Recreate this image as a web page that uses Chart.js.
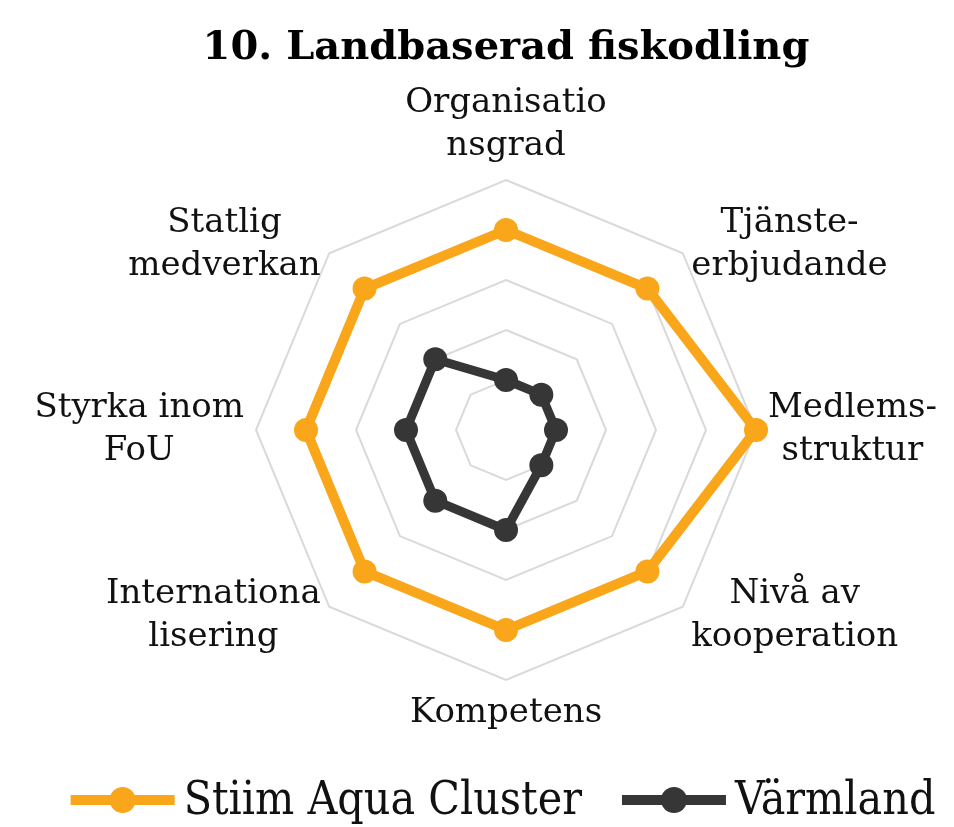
<!DOCTYPE html>
<html lang="sv">

<head>
    <meta charset="UTF-8">
    <meta name="viewport" content="width=device-width, initial-scale=1.0">
    <title>Landbaserad fiskodling</title>
    <style>
        html, body {
            margin: 0;
            padding: 0;
            background: #ffffff;
        }

        .chart-container {
            width: 954px;
            height: 827px;
        }
    </style>
</head>

<body>
    <div class="chart-container">
        <canvas id="radarChart"></canvas>
    </div>

    <script src="https://cdn.jsdelivr.net/npm/chart.js"></script>
    <script>
        // data
        const categories = [
            ["Organisatio", "nsgrad"],
            ["Tjänste-", "erbjudande"],
            ["Medlems-", "struktur"],
            ["Nivå av", "kooperation"],
            ["Kompetens"],
            ["Internationa", "lisering"],
            ["Styrka inom", "FoU"],
            ["Statlig", "medverkan"]
        ];
        const stiimValues = [4, 4, 5, 4, 4, 4, 4, 4];
        const varmlandValues = [1, 1, 1, 1, 2, 2, 2, 2];
        const seriesNames = ["Stiim Aqua Cluster", "Värmland"];
        const chartTitle = "10. Landbaserad fiskodling";

        const orange = "#F9A61A";
        const dark = "#363636";

        // draws the axis labels centred line by line, like the original
        const axisLabelPlugin = {
            id: "axisLabels",
            afterDraw(chart) {
                const scale = chart.scales.r;
                const ctx = chart.ctx;
                const lineH = 43;
                ctx.save();
                ctx.font = "34px 'DejaVu Serif'";
                ctx.fillStyle = "#111111";
                ctx.textAlign = "center";
                ctx.textBaseline = "middle";
                chart.data.labels.forEach(function (lines, i) {
                    const p = scale.getPointPosition(i, scale.drawingArea + 12);
                    const w = Math.max(...lines.map((l) => ctx.measureText(l).width));
                    const h = lines.length * lineH;
                    const cos = Math.cos(p.angle);
                    const sin = Math.sin(p.angle);
                    let cx = p.x;
                    let cy = p.y;
                    if (cos > 0.01) cx += w / 2;
                    else if (cos < -0.01) cx -= w / 2;
                    if (Math.abs(cos) <= 0.01) cy += sin * h / 2;
                    lines.forEach((l, k) => ctx.fillText(l, cx, cy - h / 2 + lineH * (k + 0.5)));
                });
                ctx.restore();
            }
        };

        // legend in the bottom strip: thick line with a dot, then the series name
        const lineLegendPlugin = {
            id: "lineLegend",
            afterDraw(chart) {
                const ctx = chart.ctx;
                const lineLen = 104;
                const textGap = 9;
                const itemGap = 40;
                const centerX = 503;
                const y = 800;
                ctx.save();
                ctx.font = "46px 'DejaVu Serif Condensed', 'Liberation Serif', serif";
                ctx.textBaseline = "middle";
                ctx.textAlign = "left";
                const items = chart.data.datasets.map((ds) => ({
                    text: ds.label,
                    color: ds.borderColor,
                    w: ctx.measureText(ds.label).width
                }));
                const total = items.reduce((s, it) => s + lineLen + textGap + it.w, 0) + itemGap * (items.length - 1);
                let x = centerX - total / 2;
                items.forEach(function (it) {
                    ctx.fillStyle = it.color;
                    ctx.fillRect(x, y - 5, lineLen, 10);
                    ctx.beginPath();
                    ctx.arc(x + lineLen / 2, y, 13, 0, Math.PI * 2);
                    ctx.fill();
                    ctx.fillStyle = "#111111";
                    ctx.fillText(it.text, x + lineLen + textGap, y + 2);
                    x += lineLen + textGap + it.w + itemGap;
                });
                ctx.restore();
            }
        };

        const ctx = document.getElementById("radarChart").getContext("2d");
        new Chart(ctx, {
            type: "radar",
            data: {
                labels: categories,
                datasets: [{
                    label: seriesNames[0],
                    data: stiimValues,
                    borderColor: orange,
                    backgroundColor: orange,
                    pointBackgroundColor: orange,
                    pointBorderColor: orange,
                    borderWidth: 10,
                    pointRadius: 12,
                    pointBorderWidth: 0,
                    fill: false
                },
                {
                    label: seriesNames[1],
                    data: varmlandValues,
                    borderColor: dark,
                    backgroundColor: dark,
                    pointBackgroundColor: dark,
                    pointBorderColor: dark,
                    borderWidth: 9,
                    pointRadius: 12,
                    pointBorderWidth: 0,
                    fill: false
                }]
            },
            options: {
                responsive: true,
                maintainAspectRatio: false,
                animation: false,
                layout: {
                    padding: { left: 58, right: 0, top: 0, bottom: 147 }
                },
                elements: {
                    line: { tension: 0, borderJoinStyle: "round" }
                },
                scales: {
                    r: {
                        min: 0,
                        max: 5,
                        angleLines: { display: false },
                        grid: { color: "#d9d9d9", lineWidth: 2 },
                        pointLabels: { display: false },
                        ticks: { stepSize: 1, display: false }
                    }
                },
                plugins: {
                    title: {
                        display: true,
                        text: chartTitle,
                        color: "#000000",
                        font: { family: "'DejaVu Serif'", size: 40, weight: "bold", lineHeight: 1.2 },
                        padding: { top: 25, bottom: 107 }
                    },
                    legend: { display: false },
                    tooltip: { enabled: false }
                }
            },
            plugins: [axisLabelPlugin, lineLegendPlugin]
        });
    </script>
</body>

</html>
